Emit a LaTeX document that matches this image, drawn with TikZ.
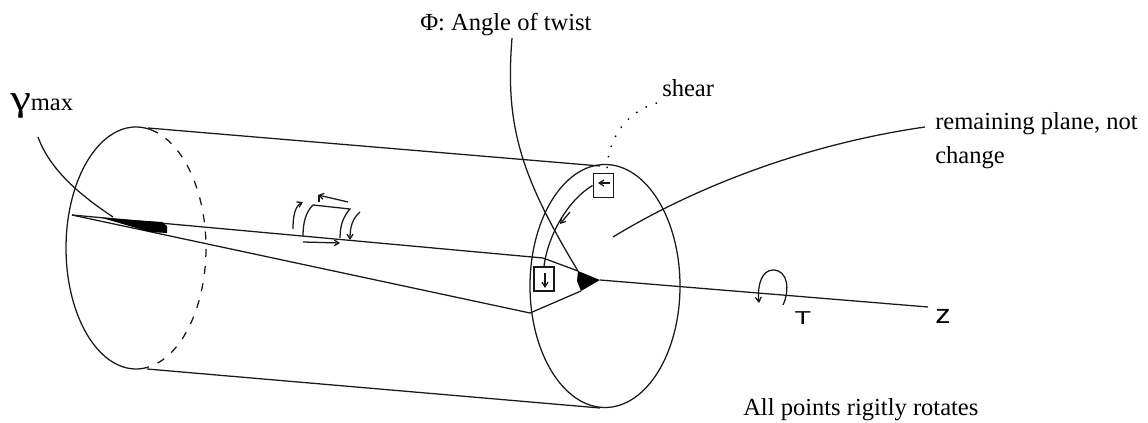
\documentclass[tikz,border=0pt]{standalone}
\usepackage{fontspec}
\setmainfont{Liberation Serif}
\newfontfamily\handfont{Liberation Sans}
\usetikzlibrary{arrows.meta, positioning}

\begin{document}
\begin{tikzpicture}[x=0.75pt, y=-0.75pt,
edge/.style={line width=0.95pt, color=black!90},
barb/.style={edge, -{Straight Barb[length=3.5pt,width=4.5pt]}},
hidden/.style={edge, dash pattern=on 6pt off 7pt},
dots/.style={line width=1.1pt, dash pattern=on 1.1pt off 7pt},
elem/.style={rectangle, draw=black!90, line width=0.95pt, inner sep=0pt},
caption/.style={inner sep=0pt, anchor=base west, font=\fontsize{18.4}{20}\selectfont},
hand/.style={inner sep=0pt, font=\handfont\fontsize{14}{16}\selectfont}]
\useasboundingbox (0,0) rectangle (1148,423);
% end cross sections
\coordinate (leftC) at (136,248);
\coordinate (rightC) at (605,286);
\draw[edge] (leftC) ++(-78:70 and 121) arc[start angle=-78, end angle=-279, x radius=70, y radius=121];
\draw[hidden] (leftC) ++(-78:70 and 121) arc[start angle=-78, end angle=81, x radius=70, y radius=121];
\draw[edge] (rightC) ellipse[x radius=75, y radius=121.5];
% generators and radii
\coordinate (fixedPt) at (72,215);
\coordinate (rimPt) at (530,313);
\coordinate (hubTop) at (578,271);
\coordinate (hubRight) at (600,280);
\coordinate (hubLow) at (581,291);
\coordinate (axisEnd) at (928,307);
\draw[edge] (148,128) -- (600,166);
\draw[edge] (147,369) -- (600,408);
\draw[edge] (fixedPt) -- (543,258) -- (hubTop);
\draw[edge] (fixedPt) -- (rimPt) -- (hubLow);
\draw[edge] (hubRight) -- (axisEnd);
\fill (102,218) -- (162,222) -- (167,226) -- (167,233) -- (150,232) -- cycle;
\fill (hubTop) -- (hubRight) -- (hubLow) -- (577,281) -- cycle;
% shear elements on the end face
\node[elem, minimum width=15.5pt, minimum height=18.5pt] (elemUp) at (603.5,185.5) {};
\node[elem, minimum width=15pt, minimum height=18pt] (elemDown) at (544,279) {};
\draw[barb] (610,183) -- (598,183);
\draw[barb] (545,273) -- (545,288);
\draw[edge] (elemUp.west) .. controls (568,200) and (548,235) .. (elemDown.north);
\draw[barb] (570,212) -- (560,224);
% element on the surface
\draw[edge] (303,236) .. controls (303,222) and (306,212) .. (313,205) -- (350,209) .. controls (344,216) and (340,224) .. (340,238);
\draw[barb] (293,229) .. controls (293,216) and (295,206) .. (303,202);
\draw[barb] (348,202) -- (318,195);
\draw[edge] (319,195) -- (319,202);
\draw[barb] (360,212) .. controls (353,218) and (350,226) .. (350,240);
\draw[barb] (303,242) -- (340,243);
% torque
\draw[barb] (783,305) .. controls (790,290) and (788,270) .. (773,270) .. controls (762,270) and (757,285) .. (759,303);
% labels
\node[caption] (gammaLabel) at (10,111) {\scalebox{1.9}[1.5]{γ}max};
\node[caption] (phiLabel) at (420,31) {Φ: Angle of twist};
\node[caption] (shearLabel) at (662,97) {shear};
\node[caption, anchor=north west, align=left] (planeLabel) at (935,112) {remaining plane, not\\[5.5pt]change};
\node[caption] (pointsLabel) at (743,415) {All points rigitly rotates};
\node[hand, xscale=1.45] (torqueLabel) at (803,318) {T};
\node[hand, xscale=1.15, font=\handfont\fontsize{20}{22}\selectfont] (axisLabel) at (943,316) {z};
% leaders
\draw[edge] (38,137) .. controls (50,170) and (80,195) .. (113,217);
\draw[edge] (512,38) .. controls (505,125) and (520,175) .. (hubTop);
\draw[dots] (657,103) .. controls (625,112) and (607,140) .. (607,172);
\draw[edge] (613,237) .. controls (690,190) and (800,145) .. (925,127);
\end{tikzpicture}
\end{document}
